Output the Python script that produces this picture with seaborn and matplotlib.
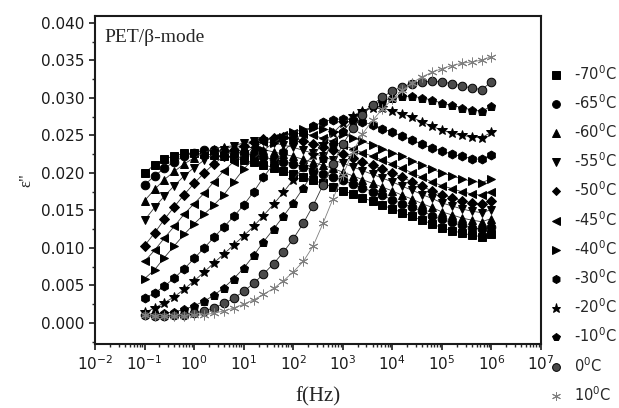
import matplotlib
matplotlib.use("Agg")
import matplotlib.pyplot as plt
from matplotlib.lines import Line2D
from matplotlib.ticker import MultipleLocator, LogLocator, NullFormatter
import seaborn as sns
import numpy as np

sns.set_style("ticks")
plt.rcParams['font.family'] = ['DejaVu Sans']
plt.rcParams['mathtext.fontset'] = 'dejavusans'
plt.rcParams['mathtext.default'] = 'regular'

# frequency grid (Hz)
freq = [0.1, 0.16, 0.25, 0.4, 0.63, 1, 1.6, 2.5, 4, 6.3,
        10, 16, 25, 40, 63, 100, 160, 250, 400, 630,
        1e3, 1.6e3, 2.5e3, 4e3, 6.3e3, 1e4, 1.6e4, 2.5e4, 4e4, 6.3e4,
        1e5, 1.6e5, 2.5e5, 4e5, 6.3e5, 1e6]

temps = ["-70", "-65", "-60", "-55", "-50", "-45", "-40", "-30", "-20", "-10", "0", "10"]

eps_m70 = [0.0200, 0.0211, 0.0218, 0.0223, 0.0226, 0.0226, 0.0225, 0.0224, 0.0222, 0.0220,
           0.0217, 0.0214, 0.0211, 0.0207, 0.0203, 0.0199, 0.0195, 0.0190, 0.0186, 0.0181,
           0.0176, 0.0172, 0.0167, 0.0162, 0.0157, 0.0152, 0.0147, 0.0142, 0.0137, 0.0132,
           0.0127, 0.0123, 0.0120, 0.0117, 0.0115, 0.0118]
eps_m65 = [0.0184, 0.0196, 0.0206, 0.0215, 0.0222, 0.0227, 0.0230, 0.0230, 0.0229, 0.0228,
           0.0226, 0.0224, 0.0221, 0.0218, 0.0215, 0.0212, 0.0208, 0.0204, 0.0199, 0.0195,
           0.0190, 0.0185, 0.0180, 0.0175, 0.0170, 0.0164, 0.0159, 0.0154, 0.0149, 0.0143,
           0.0138, 0.0134, 0.0130, 0.0127, 0.0125, 0.0128]
eps_m60 = [0.0163, 0.0178, 0.0191, 0.0202, 0.0212, 0.0220, 0.0227, 0.0232, 0.0235, 0.0236,
           0.0235, 0.0233, 0.0231, 0.0228, 0.0225, 0.0222, 0.0218, 0.0214, 0.0210, 0.0206,
           0.0201, 0.0196, 0.0191, 0.0186, 0.0181, 0.0176, 0.0170, 0.0165, 0.0159, 0.0154,
           0.0148, 0.0144, 0.0140, 0.0137, 0.0135, 0.0139]
eps_m55 = [0.0137, 0.0154, 0.0169, 0.0183, 0.0196, 0.0207, 0.0217, 0.0225, 0.0231, 0.0236,
           0.0240, 0.0242, 0.0242, 0.0240, 0.0237, 0.0234, 0.0230, 0.0226, 0.0222, 0.0217,
           0.0213, 0.0208, 0.0203, 0.0198, 0.0193, 0.0188, 0.0182, 0.0177, 0.0171, 0.0166,
           0.0160, 0.0156, 0.0152, 0.0149, 0.0147, 0.0151]
eps_m50 = [0.0103, 0.0120, 0.0138, 0.0155, 0.0171, 0.0186, 0.0200, 0.0212, 0.0222, 0.0230,
           0.0236, 0.0241, 0.0245, 0.0247, 0.0248, 0.0246, 0.0243, 0.0239, 0.0235, 0.0230,
           0.0225, 0.0220, 0.0215, 0.0210, 0.0205, 0.0200, 0.0194, 0.0188, 0.0182, 0.0176,
           0.0171, 0.0167, 0.0163, 0.0160, 0.0158, 0.0162]
eps_m45 = [0.0082, 0.0097, 0.0113, 0.0129, 0.0145, 0.0159, 0.0173, 0.0188, 0.0203, 0.0215,
           0.0225, 0.0234, 0.0241, 0.0247, 0.0251, 0.0253, 0.0252, 0.0250, 0.0246, 0.0242,
           0.0237, 0.0232, 0.0227, 0.0222, 0.0217, 0.0212, 0.0206, 0.0200, 0.0194, 0.0188,
           0.0183, 0.0179, 0.0175, 0.0172, 0.0170, 0.0175]
eps_m40 = [0.0059, 0.0071, 0.0087, 0.0103, 0.0118, 0.0132, 0.0145, 0.0157, 0.0171, 0.0188,
           0.0205, 0.0219, 0.0230, 0.0240, 0.0248, 0.0254, 0.0258, 0.0260, 0.0259, 0.0256,
           0.0252, 0.0247, 0.0242, 0.0237, 0.0232, 0.0227, 0.0222, 0.0216, 0.0210, 0.0205,
           0.0200, 0.0196, 0.0192, 0.0189, 0.0187, 0.0192]
eps_m30 = [0.0033, 0.0040, 0.0049, 0.0060, 0.0072, 0.0086, 0.0100, 0.0114, 0.0128, 0.0142,
           0.0157, 0.0175, 0.0194, 0.0212, 0.0228, 0.0242, 0.0253, 0.0262, 0.0268, 0.0271,
           0.0272, 0.0271, 0.0268, 0.0264, 0.0259, 0.0254, 0.0249, 0.0244, 0.0238, 0.0233,
           0.0229, 0.0225, 0.0222, 0.0219, 0.0218, 0.0224]
eps_m20 = [0.0014, 0.0020, 0.0027, 0.0035, 0.0045, 0.0056, 0.0068, 0.0080, 0.0092, 0.0104,
           0.0116, 0.0129, 0.0143, 0.0158, 0.0174, 0.0191, 0.0208, 0.0224, 0.0239, 0.0253,
           0.0266, 0.0276, 0.0283, 0.0286, 0.0286, 0.0283, 0.0279, 0.0274, 0.0268, 0.0262,
           0.0257, 0.0253, 0.0250, 0.0248, 0.0247, 0.0254]
eps_m10 = [0.0012, 0.0012, 0.0013, 0.0015, 0.0018, 0.0023, 0.0029, 0.0037, 0.0047, 0.0059,
           0.0073, 0.0090, 0.0108, 0.0125, 0.0142, 0.0160, 0.0180, 0.0200, 0.0220, 0.0239,
           0.0256, 0.0270, 0.0281, 0.0290, 0.0296, 0.0300, 0.0302, 0.0302, 0.0300, 0.0297,
           0.0293, 0.0290, 0.0287, 0.0284, 0.0282, 0.0289]
eps_0 = [0.0010, 0.0009, 0.0009, 0.0010, 0.0011, 0.0013, 0.0016, 0.0020, 0.0026, 0.0033,
         0.0042, 0.0053, 0.0065, 0.0079, 0.0094, 0.0112, 0.0133, 0.0156, 0.0184, 0.0212,
         0.0238, 0.0260, 0.0277, 0.0291, 0.0301, 0.0309, 0.0315, 0.0319, 0.0321, 0.0322,
         0.0321, 0.0319, 0.0316, 0.0313, 0.0311, 0.0321]
eps_10 = [0.0010, 0.0009, 0.0009, 0.0009, 0.0009, 0.0010, 0.0011, 0.0013, 0.0016, 0.0020,
          0.0025, 0.0031, 0.0038, 0.0046, 0.0056, 0.0068, 0.0082, 0.0102, 0.0133, 0.0165,
          0.0197, 0.0228, 0.0252, 0.0270, 0.0285, 0.0298, 0.0310, 0.0320, 0.0328, 0.0334,
          0.0339, 0.0343, 0.0346, 0.0348, 0.0350, 0.0355]

series = [eps_m70, eps_m65, eps_m60, eps_m55, eps_m50, eps_m45, eps_m40,
          eps_m30, eps_m20, eps_m10, eps_0, eps_10]

styles = [
    dict(marker='s', ms=5.8, mfc='k', mec='k', color='#333333'),
    dict(marker='o', ms=6.2, mfc='k', mec='k', color='#333333'),
    dict(marker='^', ms=6.4, mfc='k', mec='k', color='#333333'),
    dict(marker='v', ms=6.4, mfc='k', mec='k', color='#333333'),
    dict(marker='D', ms=5.0, mfc='k', mec='k', color='#333333'),
    dict(marker='<', ms=6.4, mfc='k', mec='k', color='#333333'),
    dict(marker='>', ms=6.4, mfc='k', mec='k', color='#333333'),
    dict(marker='h', ms=6.4, mfc='k', mec='k', color='#333333'),
    dict(marker='*', ms=7.2, mfc='k', mec='k', color='#333333'),
    dict(marker='p', ms=6.4, mfc='k', mec='k', color='#333333'),
    dict(marker='o', ms=6.2, mfc='#4a4a4a', mec='k', color='#333333'),
    dict(marker=(6, 2, 0), ms=7.0, mfc='#808080', mec='#808080', color='#808080'),
]

fig = plt.figure(figsize=(6.19, 4.08), dpi=100)
ax = fig.add_axes([95/619, 1-344/408, (541-95)/619, (344-16)/408])

for vals, st in zip(series, styles):
    sns.lineplot(x=freq, y=vals, ax=ax, estimator=None, sort=False, legend=False,
                 lw=0.6, color=st['color'], marker=st['marker'], ms=st['ms'],
                 mfc=st['mfc'], mec=st['mec'], mew=0.7)

ax.set_xscale('log')
ax.set_xlim(1e-2, 1e7)
ax.set_ylim(-0.0028, 0.0409)
ax.yaxis.set_major_locator(MultipleLocator(0.005))
ax.yaxis.set_minor_locator(MultipleLocator(0.0025))
ax.yaxis.set_major_formatter(matplotlib.ticker.FormatStrFormatter('%.3f'))
ax.xaxis.set_major_locator(LogLocator(base=10, numticks=20))
ax.xaxis.set_minor_locator(LogLocator(base=10, subs=np.arange(2, 10), numticks=20))
ax.xaxis.set_minor_formatter(NullFormatter())

for s in ax.spines.values():
    s.set_linewidth(1.5)
    s.set_color('#1a1a1a')
ax.tick_params(axis='both', which='major', direction='out', length=4, width=1.2,
               labelsize=11, colors='#1a1a1a', top=False, right=False)
ax.tick_params(axis='both', which='minor', direction='out', length=2.2, width=1.0,
               top=False, right=False)

ax.set_xlabel('f(Hz)', family='Liberation Serif', fontsize=15, labelpad=10)
ax.set_ylabel('ε"', family='Liberation Serif', fontsize=12)
ax.yaxis.set_label_coords(-0.135, 0.5)
ax.text(0.022, 0.96, 'PET/β-mode', transform=ax.transAxes, family='Liberation Serif',
        fontsize=14, va='top', ha='left')

handles = [Line2D([], [], ls='none', marker=st['marker'], ms=st['ms'] - 0.6,
                  mfc=st['mfc'], mec=st['mec'], mew=0.7) for st in styles]
labels = [f"{t}$^0$C" for t in temps]
fig.legend(handles, labels, loc='upper left', bbox_to_anchor=(549/619, 1-64/408),
           frameon=False, fontsize=10.5, handlelength=1.0, handletextpad=0.7,
           labelspacing=0.72, borderpad=0, borderaxespad=0)

fig.savefig('out.png', dpi=100)
